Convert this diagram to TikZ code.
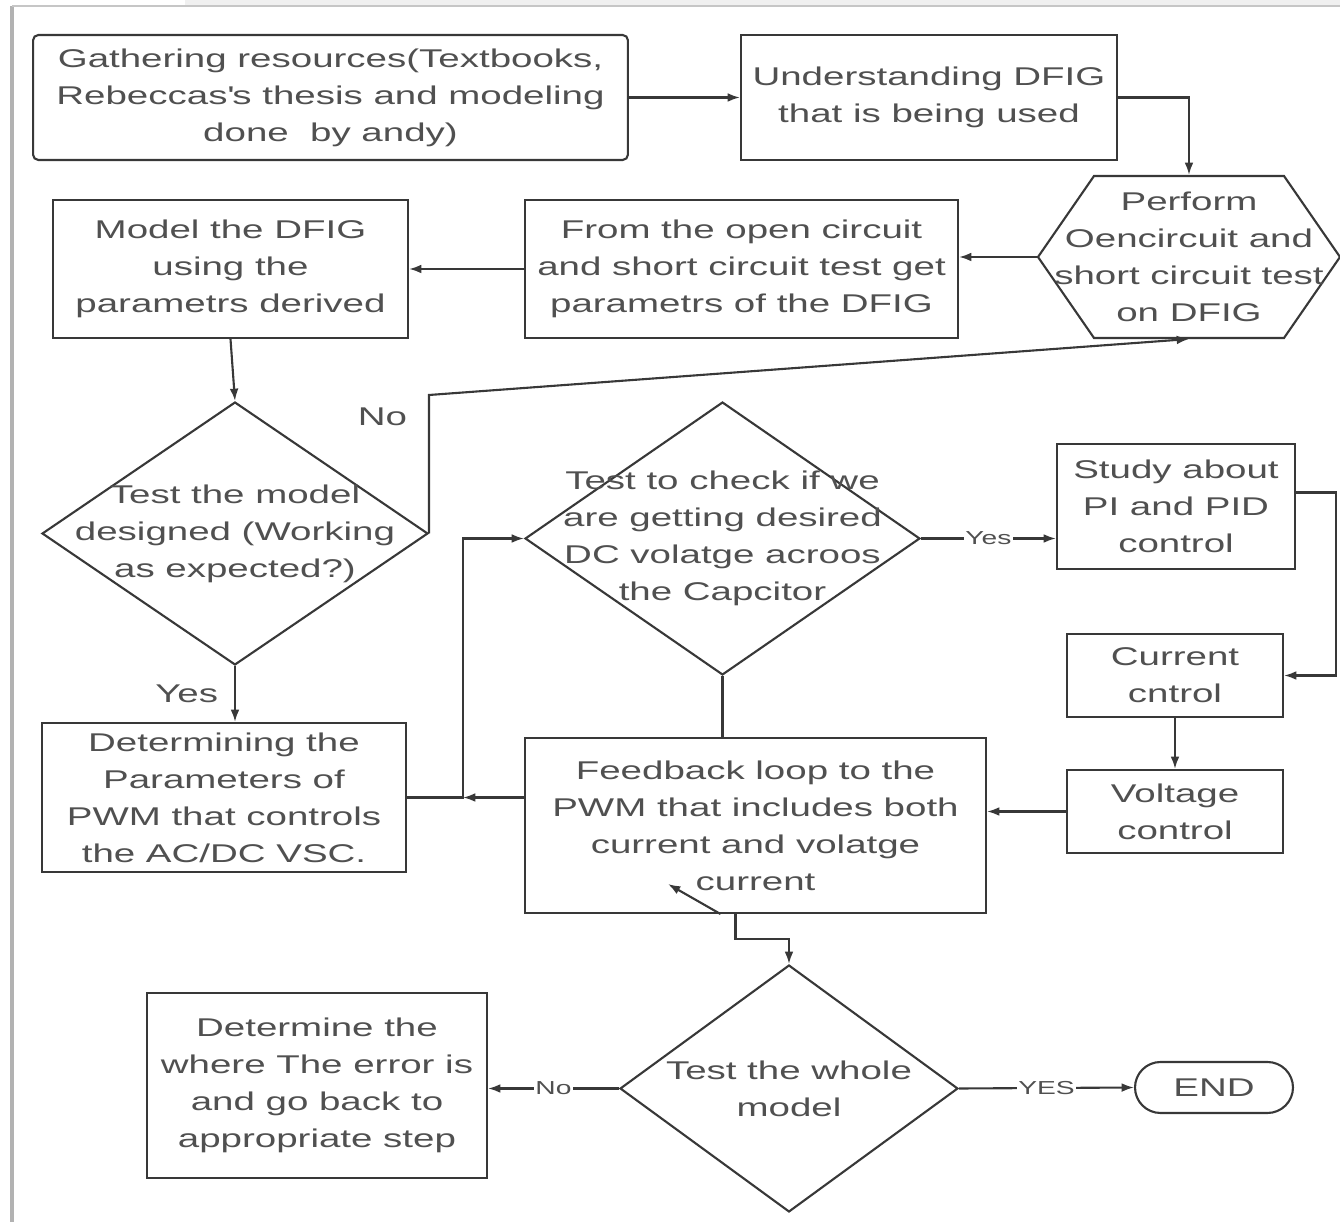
\documentclass[tikz,border=0pt]{standalone}
\usepackage{fontspec}
\setmainfont[FakeStretch=1.5]{Liberation Sans}
\usetikzlibrary{shapes.geometric,arrows.meta}

\definecolor{linegray}{HTML}{383838}
\definecolor{textgray}{HTML}{505050}

\tikzset{
	boxtext/.style={text=textgray, align=center, font=\fontsize{14.6}{21}\selectfont},
	block/.style={boxtext, draw=linegray, fill=white, inner sep=2pt},
	decision/.style={shape=diamond, draw=linegray, fill=white, inner sep=0pt},
	linelabel/.style={text=textgray, fill=white, inner sep=1pt, font=\fontsize{10.7}{12}\selectfont}
}

\begin{document}
\begin{tikzpicture}[x=0.02cm, y=-0.02cm, line width=1.2pt, draw=linegray, >={Latex[length=7pt,width=5pt]}]
		\useasboundingbox (0,0) rectangle (1340,1222);
		% screen frame
		\fill[gray!12] (185,0) rectangle (1340,6);
		\draw[gray!60, line width=2.5pt] (12,6) -- (12,1222);
		\draw[gray!45, line width=1pt] (12,6) -- (1340,6);
		% hexagon outline
		\coordinate (hexc) at (1189,257);
		\draw[fill=white, shift={(hexc)}] (-151,0) -- (-95,-81) -- (95,-81) -- (151,0) -- (95,81) -- (-95,81) -- cycle;
		\node[block, rounded corners=3pt, minimum width=11.9cm, minimum height=2.5cm] (gather) at (330.5,97.5) {Gathering resources(Textbooks,\\Rebeccas\textquotesingle s thesis and modeling\\done\ \ by andy)};
		\node[block, minimum width=7.52cm, minimum height=2.5cm] (understand) at (929,97.5) {Understanding DFIG\\that is being used};
		\node[boxtext, minimum width=6.04cm, minimum height=3.24cm] (hex) at (hexc) {Perform\\Oencircuit and\\short circuit test\\on DFIG};
		\node[block, minimum width=8.66cm, minimum height=2.76cm] (from) at (741.5,269) {From the open circuit\\and short circuit test get\\parametrs of the DFIG};
		\node[block, minimum width=7.1cm, minimum height=2.76cm] (model) at (230.5,269) {Model the DFIG\\using the\\parametrs derived};
		\node[decision, minimum width=7.72cm, minimum height=5.26cm, label={[boxtext]center:Test the model\\designed (Working\\as expected?)}] (test) at (235,533.5) {};
		\node[decision, minimum width=7.9cm, minimum height=5.46cm, label={[boxtext]center:Test to check if we\\are getting desired\\DC volatge acroos\\the Capcitor}] (check) at (722.5,538.5) {};
		\node[block, minimum width=4.76cm, minimum height=2.5cm] (study) at (1176,506.5) {Study about\\PI and PID\\control};
		\node[block, minimum width=4.32cm, minimum height=1.66cm] (current) at (1175,675.5) {Current\\cntrol};
		\node[block, minimum width=4.32cm, minimum height=1.66cm] (voltage) at (1175,811.5) {Voltage\\control};
		\node[block, minimum width=9.22cm, minimum height=3.5cm] (feedback) at (755.5,825.5) {Feedback loop to the\\PWM that includes both\\current and volatge\\current};
		\node[block, minimum width=7.28cm, minimum height=2.98cm] (pwm) at (224,797.5) {Determining the\\Parameters of\\PWM that controls\\the AC/DC VSC.};
		\node[decision, minimum width=6.76cm, minimum height=4.94cm, label={[boxtext]center:Test the whole\\model}] (whole) at (789,1088.5) {};
		\node[block, minimum width=6.8cm, minimum height=3.7cm] (determine) at (317,1085.5) {Determine the\\where The error is\\and go back to\\appropriate step};
		\node[block, rounded corners=0.51cm, minimum width=3.16cm, minimum height=1.02cm] (finish) at (1214,1087.5) {END};
		% connectors
		\draw[->] (gather) -- (understand);
		\draw[->] (understand.east) -| (hex.north);
		\draw[->] (hex.west) -- (hex.west -| from.east);
		\draw[->] (from.west) -- (model.east);
		\draw[->] (model.south) -- (test.north);
		\draw[->] (test.east) -- node[boxtext, pos=0.84, left=0.3cm] {No} (test.east |- 0,395) -- (hex.south);
		\draw[->] (test.south) -- node[boxtext, left=0.2cm] {Yes} (test.south |- pwm.north);
		\coordinate (split) at (463,797.5);
		\draw[->] (feedback.west |- split) -- (split);
		\draw[->] (pwm.east) -- (split) |- (check.west);
		\draw (check.south) -- (check.south |- feedback.north);
		\draw[->] (check.east) -- node[linelabel] {Yes} (check.east -| study.west);
		\draw[->] ([yshift=0.28cm]study.east) -- ++(40,0) |- (current.east);
		\draw[->] (current) -- (voltage);
		\draw[->] (voltage.west) -- (voltage.west -| feedback.east);
		\coordinate (stray) at (668,884);
		\draw[->] ([xshift=-0.7cm]feedback.south) -- (stray);
		\draw[->] ([xshift=-0.4cm]feedback.south) -- ++(0,25) -| (whole.north);
		\draw[->] (whole.west) -- node[linelabel] {No} (whole.west -| determine.east);
		\draw[->] (whole.east) -- node[linelabel] {YES} (finish.west);
	\end{tikzpicture}
\end{document}
